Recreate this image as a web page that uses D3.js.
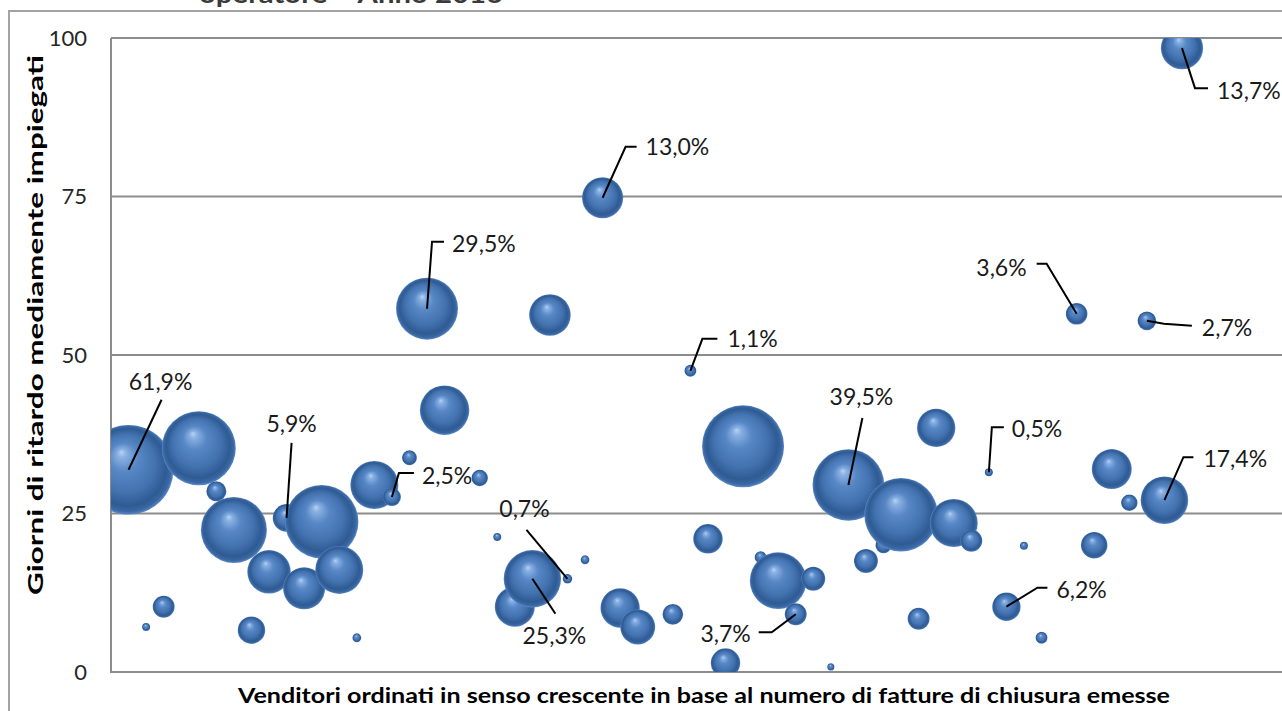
<!DOCTYPE html>
<html>
<head>
<meta charset="utf-8">
<script src="https://cdn.jsdelivr.net/npm/d3@7/dist/d3.min.js"></script>
<style>
  html, body { margin: 0; padding: 0; background: #ffffff; }
  svg { display: block; }
</style>
</head>
<body>
<script>
// Vendors ranked by number of closing invoices issued (rank on the x axis)
const ranks  = [1, 2, 3, 5, 6, 7, 8, 9, 10, 11, 12, 13, 14, 15, 16, 17, 18, 19, 21, 22,
                23, 24, 25, 26, 27, 28, 29, 30, 32, 33, 34, 35, 36, 37, 38, 39, 40, 41, 42, 43,
                44, 45, 46, 47, 48, 49, 50, 51, 52, 53, 55, 56, 57, 58, 59, 60, 61];
// Average days of delay
const delays = [31.9, 7.1, 10.3, 35.3, 28.5, 22.4, 6.6, 15.8, 24.3, 13.2, 23.7, 16.1, 5.4, 29.5, 27.6, 33.8, 57.3, 41.3, 30.6, 21.3,
                10.3, 14.7, 56.3, 14.7, 17.7, 74.8, 10.1, 7.1, 9.1, 47.5, 21.0, 1.4, 35.6, 18.1, 14.4, 9.1, 14.7, 0.8, 29.5, 17.5,
                20.0, 24.8, 8.4, 38.5, 23.5, 20.7, 31.5, 10.3, 19.9, 5.4, 56.5, 20.0, 32.0, 26.7, 55.4, 27.1, 98.4];
// Share (%) shown as bubble area
const shares = [61.9, 0.5, 3.7, 42.1, 3.1, 33.5, 5.8, 14.5, 5.9, 13.6, 41.5, 17.7, 0.6, 17.7, 2.5, 1.7, 29.5, 18.8, 2.1, 0.5,
                12.3, 25.3, 13.3, 0.7, 0.6, 13.0, 11.9, 9.4, 3.3, 1.1, 6.7, 6.7, 51.7, 1.1, 24.7, 3.7, 4.4, 0.4, 39.5, 4.4,
                2.0, 41.5, 3.7, 11.3, 17.7, 3.7, 0.5, 6.2, 0.5, 1.1, 3.6, 5.4, 12.3, 2.1, 2.7, 17.4, 13.7];

const yTicks = [0, 25, 50, 75, 100];

// Bubbles that carry a data label
const labelRanks = [1, 10, 16, 18, 24, 26, 28, 33, 39, 42, 50, 51, 55, 59, 60, 61];
// Callout geometry, in pixels relative to the bubble centre
const labelLayout = [
  { leader: [[33, -70]],             text: [32, -88],  anchor: "middle" },
  { leader: [[5, -75]],              text: [5, -94],   anchor: "middle" },
  { leader: [[7, -24], [22, -24]],   text: [30, -21],  anchor: "start"  },
  { leader: [[5, -67], [17, -67]],   text: [25, -65],  anchor: "start"  },
  { leader: [[23, 35]],              text: [22, 57],   anchor: "middle" },
  { leader: [[-41, -49]],            text: [-43, -70], anchor: "middle" },
  { leader: [[23, -51], [34, -51]],  text: [43, -51],  anchor: "start"  },
  { leader: [[12, -32], [27, -32]],  text: [37, -32],  anchor: "start"  },
  { leader: [[-24, 18], [-37, 18]],  text: [-45, 19],  anchor: "end"    },
  { leader: [[14, -67]],             text: [13, -88],  anchor: "middle" },
  { leader: [[3, -45], [15, -45]],   text: [23, -44],  anchor: "start"  },
  { leader: [[31, -19], [41, -19]],  text: [50, -17],  anchor: "start"  },
  { leader: [[-30, -50], [-40, -50]],text: [-50, -46], anchor: "end"    },
  { leader: [[17, 3], [45, 5]],      text: [55, 7],    anchor: "start"  },
  { leader: [[19, -43], [29, -43]],  text: [39, -41],  anchor: "start"  },
  { leader: [[13, 40], [26, 40]],    text: [35, 43],   anchor: "start"  }
];

const W = 1282, H = 711;
const plot = { left: 111, top: 38, bottom: 672 };

const x = d3.scaleLinear().domain([0, 70]).range([plot.left, 1340]);
const y = d3.scaleLinear().domain([0, 100]).range([plot.bottom, plot.top]);
const r = d3.scaleSqrt().domain([0, 62]).range([0, 44.9]);

const itFormat = d3.formatLocale({ decimal: ",", thousands: ".", grouping: [3], currency: ["", "€"] }).format(".1f");

const svg = d3.select("body").append("svg")
  .attr("width", W).attr("height", H)
  .attr("viewBox", `0 0 ${W} ${H}`);

const defs = svg.append("defs");
const grad = defs.append("radialGradient")
  .attr("id", "sphere")
  .attr("cx", "0.5").attr("cy", "0.5").attr("r", "0.5")
  .attr("fx", "0.42").attr("fy", "0.30");
[
  [0.00, "#b9d3f1"],
  [0.10, "#88b0e2"],
  [0.32, "#5887c6"],
  [0.65, "#4372b0"],
  [0.86, "#2f5b93"],
  [0.95, "#3a68a4"],
  [1.00, "#5b89c6"]
].forEach(([o, c]) => grad.append("stop").attr("offset", o).attr("stop-color", c));

defs.append("clipPath").attr("id", "plotClip")
  .append("rect")
  .attr("x", plot.left).attr("y", plot.top)
  .attr("width", 1400).attr("height", plot.bottom - plot.top);

// Chart frame (left and top edges)
svg.append("path")
  .attr("d", `M9,${H + 5} V11 H${W + 5}`)
  .attr("fill", "none").attr("stroke", "#a3a3a3").attr("stroke-width", 2);

// Title (last line, running off the top edge)
svg.append("text")
  .attr("x", 199).attr("y", 3)
  .attr("font-family", "Lato, 'DejaVu Sans', sans-serif")
  .attr("font-weight", "bold").attr("font-size", 24)
  .attr("fill", "#3a3a3a")
  .attr("textLength", 328).attr("lengthAdjust", "spacingAndGlyphs")
  .text("operatore – Anno 2016 –");

// Horizontal gridlines
svg.append("g")
  .selectAll("line")
  .data(yTicks.filter(t => t > 0))
  .join("line")
  .attr("x1", plot.left).attr("x2", W + 5)
  .attr("y1", d => y(d)).attr("y2", d => y(d))
  .attr("stroke", "#8c8c8c").attr("stroke-width", 2);

// Y axis
const yAxis = svg.append("g")
  .attr("transform", `translate(${plot.left},0)`)
  .call(d3.axisLeft(y).tickValues(yTicks).tickSize(0).tickPadding(24));
yAxis.select(".domain").remove();
yAxis.selectAll("text")
  .attr("font-family", "Lato, 'DejaVu Sans', sans-serif")
  .attr("font-size", 22)
  .attr("fill", "#262626");

// Axis lines
svg.append("path")
  .attr("d", `M${plot.left},${plot.top} V${plot.bottom} H${W + 5}`)
  .attr("fill", "none").attr("stroke", "#8c8c8c").attr("stroke-width", 2);

// Bubbles, drawn in rank order
const points = ranks.map((rk, i) => ({ rank: rk, delay: delays[i], share: shares[i] }));

svg.append("g")
  .attr("clip-path", "url(#plotClip)")
  .selectAll("circle")
  .data(points)
  .join("circle")
  .attr("cx", d => x(d.rank))
  .attr("cy", d => y(d.delay))
  .attr("r", d => r(d.share))
  .attr("fill", "url(#sphere)");

// Data labels with leader lines
const labelled = labelRanks.map((rk, i) => {
  const p = points.find(d => d.rank === rk);
  return { ...p, layout: labelLayout[i] };
});

const lbl = svg.append("g");
lbl.selectAll("path")
  .data(labelled)
  .join("path")
  .attr("d", d => {
    const cx = x(d.rank), cy = y(d.delay);
    const pts = [[cx, cy]].concat(d.layout.leader.map(([dx, dy]) => [cx + dx, cy + dy]));
    return d3.line()(pts);
  })
  .attr("fill", "none").attr("stroke", "#000").attr("stroke-width", 2);

lbl.selectAll("text")
  .data(labelled)
  .join("text")
  .attr("x", d => x(d.rank) + d.layout.text[0])
  .attr("y", d => y(d.delay) + d.layout.text[1])
  .attr("dy", "0.36em")
  .attr("text-anchor", d => d.layout.anchor)
  .attr("font-family", "Lato, 'DejaVu Sans', sans-serif")
  .attr("font-size", 23)
  .attr("fill", "#1a1a1a")
  .text(d => itFormat(d.share) + "%");

// Axis titles
svg.append("text")
  .attr("x", 704).attr("y", 703)
  .attr("text-anchor", "middle")
  .attr("font-family", "Lato, 'DejaVu Sans', sans-serif")
  .attr("font-weight", "bold").attr("font-size", 21)
  .attr("fill", "#000")
  .attr("textLength", 932).attr("lengthAdjust", "spacingAndGlyphs")
  .text("Venditori ordinati in senso crescente in base al numero di fatture di chiusura emesse");

svg.append("text")
  .attr("transform", "translate(35,325) rotate(-90)")
  .attr("text-anchor", "middle")
  .attr("dy", "0.36em")
  .attr("font-family", "Lato, 'DejaVu Sans', sans-serif")
  .attr("font-weight", "bold").attr("font-size", 21)
  .attr("fill", "#000")
  .attr("textLength", 540).attr("lengthAdjust", "spacingAndGlyphs")
  .text("Giorni di ritardo mediamente impiegati");
</script>
</body>
</html>
